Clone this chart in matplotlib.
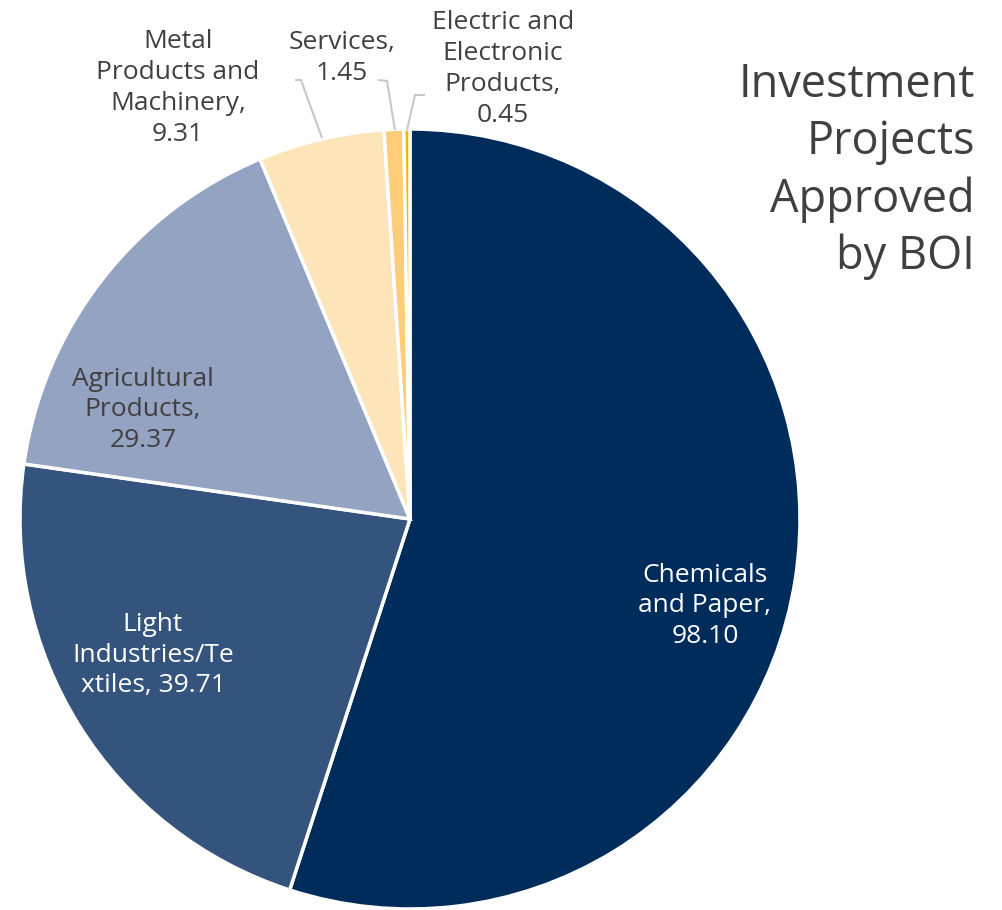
import matplotlib.pyplot as plt

# Investment projects approved by BOI, by sector
sectors = [
    "Chemicals and Paper",
    "Light Industries/Textiles",
    "Agricultural Products",
    "Metal Products and Machinery",
    "Services",
    "Electric and Electronic Products",
]
values = [98.10, 39.71, 29.37, 9.31, 1.45, 0.45]
label_texts = [
    "Chemicals\nand Paper,\n98.10",
    "Light\nIndustries/Te\nxtiles, 39.71",
    "Agricultural\nProducts,\n29.37",
    "Metal\nProducts and\nMachinery,\n9.31",
    "Services,\n1.45",
    "Electric and\nElectronic\nProducts,\n0.45",
]
colors = ["#002c5c", "#34547e", "#94a3c2", "#fee4b9", "#ffcd77", "#f4b400"]

# label placement in pixel coordinates (y measured from the top)
label_xy = [(705, 606), (153, 655), (143, 410), (178, 88), (342, 58), (503, 69)]
label_colors = ["white", "white", "#404040", "#404040", "#404040", "#404040"]

# leader lines for the small outer slices
leaders = {
    3: [(295, 80), (301, 80), (322, 138)],
    4: [(378, 80), (387, 81), (395, 130)],
    5: [(425, 95), (415, 95), (407, 130)],
}

W, H = 1003, 910
fig = plt.figure(figsize=(W / 100, H / 100), dpi=100)
ax = fig.add_axes([0, 0, 1, 1])

ax.pie(values, colors=colors, startangle=90, counterclock=False,
       center=(410, H - 519), radius=390, frame=True,
       wedgeprops=dict(edgecolor="white", linewidth=2.5))
ax.set_xlim(0, W)
ax.set_ylim(0, H)
ax.set_aspect("equal")
ax.axis("off")

font = "Open Sans"
for i, txt in enumerate(label_texts):
    x, y = label_xy[i]
    ax.text(x, H - y, txt, ha="center", va="center", fontsize=19,
            color=label_colors[i], family=font, linespacing=1.3)

for i, pts in leaders.items():
    xs = [p[0] for p in pts]
    ys = [H - p[1] for p in pts]
    ax.plot(xs, ys, color="#c8c8c8", lw=1.5, solid_capstyle="butt")

ax.text(975, H - 171, "Investment\nProjects\nApproved\nby BOI", ha="right",
        va="center", fontsize=32.5, color="#404040", family=font, linespacing=1.32)

fig.savefig("out.png", dpi=100)
